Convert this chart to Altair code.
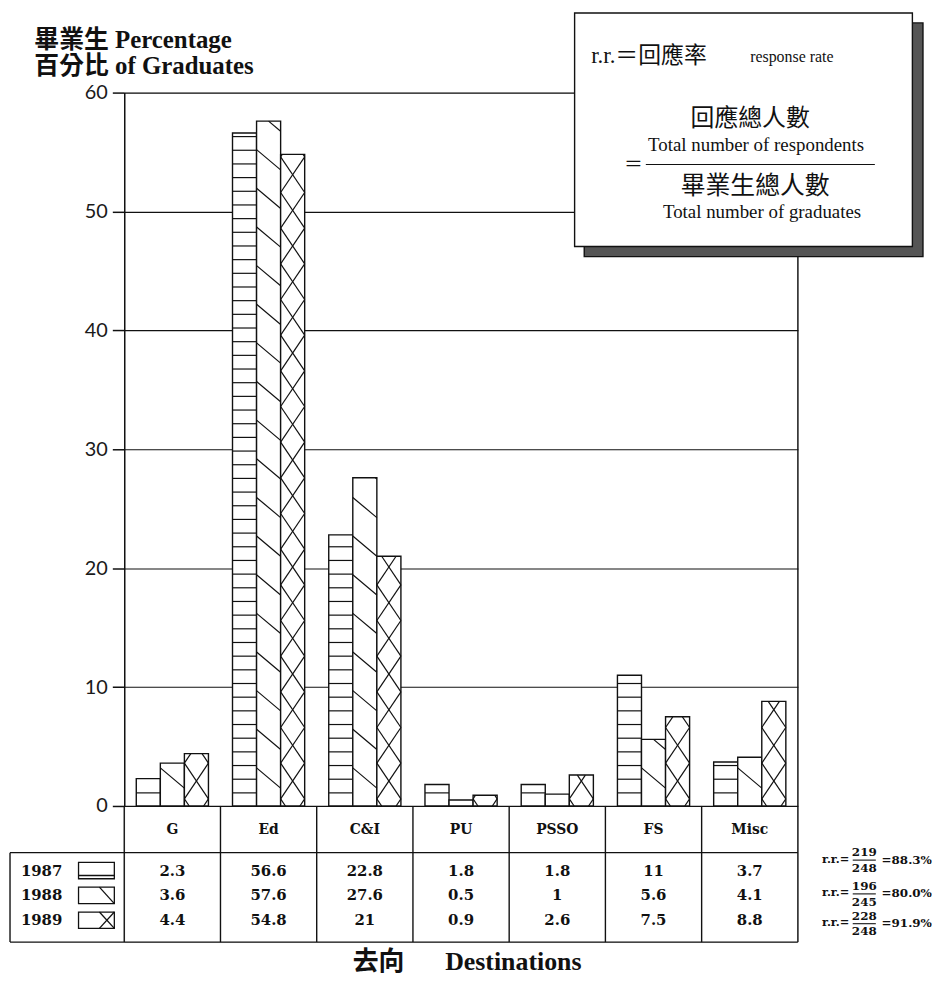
import altair as alt
import pandas as pd

# ---------------- data ----------------
categories = ["G", "Ed", "C&I", "PU", "PSSO", "FS", "Misc"]
years = ["1987", "1988", "1989"]
v1987 = [2.3, 56.6, 22.8, 1.8, 1.8, 11, 3.7]
v1988 = [3.6, 57.6, 27.6, 0.5, 1, 5.6, 4.1]
v1989 = [4.4, 54.8, 21, 0.9, 2.6, 7.5, 8.8]
respondents = [219, 196, 228]
graduates = [248, 245, 248]
rates = ["88.3%", "80.0%", "91.9%"]
y_ticks = [0, 10, 20, 30, 40, 50, 60]

series = [v1987, v1988, v1989]
n = len(categories)

SERIF = "Liberation Serif, Noto Sans CJK TC"
TABLE_FONT = "DejaVu Serif"
INK = "#111111"

# ---------------- scales ----------------
xs = alt.Scale(domain=[0, n], nice=False, zero=False)
ys = alt.Scale(domain=[0, 60], range=[718, 0], nice=False, zero=False)
ts = alt.Scale(domain=[-1.6, 3.88], range=[718, 855], nice=False, zero=False)

y_axis = alt.Axis(
    values=y_ticks, grid=True, gridColor=INK, gridWidth=1.2, gridOpacity=1,
    domainColor=INK, domainWidth=1.5, tickColor=INK, tickSize=12, tickWidth=1.5,
    labelFont="Lato", labelFontSize=20, labelColor="#1a1a1a", labelPadding=5,
    title=["畢業生 Percentage", "百分比 of Graduates"], titleAngle=0,
    titleAlign="left", titleBaseline="alphabetic", titleX=-91, titleY=-45,
    titleFont=SERIF, titleFontSize=25, titleFontWeight="bold",
    titleColor=INK, titleLineHeight=26)

X = lambda f="x": alt.X(f"{f}:Q", scale=xs, axis=None)
Y = lambda f="y": alt.Y(f"{f}:Q", scale=ys, axis=y_axis)
T = lambda f="y": alt.Y(f"{f}:Q", scale=ts, axis=None)

# ---------------- bars ----------------
bar_rows = []
for i, c in enumerate(categories):
    for k, yr in enumerate(years):
        x0 = i + 0.125 + 0.25 * k
        bar_rows.append({"cat": c, "year": yr, "x": x0, "x2": x0 + 0.25,
                         "y": series[k][i], "zero": 0})
bars_df = pd.DataFrame(bar_rows)


def clip_seg(xl, xr, y0, d, v):
    if d > 0:
        t_lo, t_hi = max(0.0, -y0 / d), min(1.0, (v - y0) / d)
    else:
        t_lo, t_hi = max(0.0, (v - y0) / d), min(1.0, -y0 / d)
    if t_hi - t_lo < 0.03:
        return None
    return {"x": xl + t_lo * (xr - xl), "y": y0 + d * t_lo,
            "x2": xl + t_hi * (xr - xl), "y2": y0 + d * t_hi}


hatch = []
for r in bar_rows:
    xl, xr, v = r["x"], r["x2"], r["y"]
    if r["year"] == "1987":
        yy = 1.1
        while yy < v - 0.15:
            hatch.append({"x": xl, "x2": xr, "y": yy, "y2": yy})
            yy += 1.15
    elif r["year"] == "1988":
        for k in range(-2, 22):
            s = clip_seg(xl, xr, 3.2 + k * 3.25, -1.7, v)
            if s:
                hatch.append(s)
    else:
        h = 1.5
        for k in range(-2, 24):
            yc = 2.1 + k * 3.0
            for s in (clip_seg(xl, xr, yc + h, -2 * h, v), clip_seg(xl, xr, yc - h, 2 * h, v)):
                if s:
                    hatch.append(s)
hatch_df = pd.DataFrame(hatch)

bars = alt.Chart(bars_df).mark_rect(fill="white", stroke=INK, strokeWidth=1.4).encode(
    x=X("x"), x2="x2", y=Y("y"), y2="zero")

hatch_layer = alt.Chart(hatch_df).mark_rule(stroke=INK, strokeWidth=1.2).encode(
    x=X("x"), x2="x2", y=Y("y"), y2="y2")

right_border = alt.Chart(pd.DataFrame({"x": [n], "y": [0], "y2": [60]})).mark_rule(
    stroke=INK, strokeWidth=1.4).encode(x=X("x"), y=Y("y"), y2="y2")

# ---------------- response-rate definition box ----------------
box_df = pd.DataFrame({"x": [4.78, 4.68], "x2": [8.30, 8.19], "y": [65.86, 66.7],
                       "y2": [46.2, 47.05], "fill": ["#555555", "white"]})
box = alt.Chart(box_df).mark_rect(stroke=INK, strokeWidth=1.4).encode(
    x=X("x"), x2="x2", y=Y("y"), y2="y2", fill=alt.Fill("fill:N", scale=None))

box_texts = [
    ("r.r.＝回應率", 4.853, 63.05, 23, "left"),
    ("response rate", 6.504, 62.95, 16, "left"),
    ("回應總人數", 6.504, 57.74, 24, "center"),
    ("Total number of respondents", 6.566, 55.57, 19, "center"),
    ("＝", 5.29, 53.9, 19, "center"),
    ("畢業生總人數", 6.556, 52.15, 25, "center"),
    ("Total number of graduates", 6.628, 49.97, 19, "center"),
]
box_text_layers = []
for t, x, y, fs, al in box_texts:
    box_text_layers.append(
        alt.Chart(pd.DataFrame({"t": [t], "x": [x], "y": [y]})).mark_text(
            align=al, baseline="middle", font=SERIF, fontSize=fs,
            color=INK).encode(x=X("x"), y=Y("y"), text="t:N"))
frac_line = alt.Chart(pd.DataFrame({"x": [5.42], "x2": [7.80], "y": [53.95]})).mark_rule(
    stroke=INK, strokeWidth=1.2).encode(x=X("x"), x2="x2", y=Y("y"))

bar_group = alt.layer(bars, hatch_layer, right_border, box, frac_line, *box_text_layers)

# ---------------- data table ----------------
LEG_L = -1.187
rows_y = [1, 2, 3]
lines = [
    {"x": LEG_L, "x2": n, "y": 0.28, "y2": 0.28},
    {"x": LEG_L, "x2": n, "y": 3.88, "y2": 3.88},
    {"x": LEG_L, "x2": LEG_L, "y": 0.28, "y2": 3.88},
]
for i in range(n + 1):
    lines.append({"x": i, "x2": i, "y": -1.6, "y2": 3.88})
lines_df = pd.DataFrame(lines)
table_lines = alt.Chart(lines_df).mark_rule(stroke=INK, strokeWidth=1.4).encode(
    x=X("x"), x2="x2", y=T("y"), y2="y2")

head_df = pd.DataFrame({"t": categories, "x": [i + 0.5 for i in range(n)], "y": -0.64})
heads = alt.Chart(head_df).mark_text(font=TABLE_FONT, fontSize=14, fontWeight="bold",
                                     color=INK, baseline="middle").encode(
    x=X("x"), y=T("y"), text="t:N")

val_rows = []
for k, yr in enumerate(years):
    for i in range(n):
        val_rows.append({"t": str(series[k][i]), "x": i + 0.5, "y": rows_y[k]})
vals = alt.Chart(pd.DataFrame(val_rows)).mark_text(
    font=TABLE_FONT, fontSize=15, fontWeight="bold", color=INK, baseline="middle").encode(
    x=X("x"), y=T("y"), text="t:N")

year_df = pd.DataFrame({"t": years, "x": -1.074, "y": rows_y})
year_text = alt.Chart(year_df).mark_text(
    font=TABLE_FONT, fontSize=15, fontWeight="bold", color=INK, align="left",
    baseline="middle").encode(x=X("x"), y=T("y"), text="t:N")

sw_df = pd.DataFrame({"x": -0.475, "x2": -0.103, "y": [r - 0.33 for r in rows_y],
                      "y2": [r + 0.33 for r in rows_y]})
swatches = alt.Chart(sw_df).mark_rect(fill="white", stroke=INK, strokeWidth=1.3).encode(
    x=X("x"), x2="x2", y=T("y"), y2="y2")
sw_lines_df = pd.DataFrame([
    {"x": -0.475, "x2": -0.103, "y": rows_y[0] + 0.2, "y2": rows_y[0] + 0.2},
    {"x": -0.258, "x2": -0.103, "y": rows_y[1] - 0.33, "y2": rows_y[1] + 0.33},
    {"x": -0.258, "x2": -0.103, "y": rows_y[2] - 0.33, "y2": rows_y[2] + 0.33},
    {"x": -0.258, "x2": -0.103, "y": rows_y[2] + 0.33, "y2": rows_y[2] - 0.33},
])
sw_lines = alt.Chart(sw_lines_df).mark_rule(stroke=INK, strokeWidth=1.3).encode(
    x=X("x"), x2="x2", y=T("y"), y2="y2")

# response rates
rr_y = [0.56, 1.92, 3.12]
rr_lbl = alt.Chart(pd.DataFrame({"t": ["r.r.="] * 3, "x": 7.535, "y": rr_y})).mark_text(
    font=TABLE_FONT, fontSize=11.5, fontWeight="bold", color=INK, align="right",
    baseline="middle").encode(x=X("x"), y=T("y"), text="t:N")
rr_num = alt.Chart(pd.DataFrame({"t": [str(v) for v in respondents], "x": 7.69,
                                 "y": [c - 0.3 for c in rr_y]})).mark_text(
    font=TABLE_FONT, fontSize=12, fontWeight="bold", color=INK, baseline="middle").encode(
    x=X("x"), y=T("y"), text="t:N")
rr_den = alt.Chart(pd.DataFrame({"t": [str(v) for v in graduates], "x": 7.69,
                                 "y": [c + 0.33 for c in rr_y]})).mark_text(
    font=TABLE_FONT, fontSize=12, fontWeight="bold", color=INK, baseline="middle").encode(
    x=X("x"), y=T("y"), text="t:N")
rr_bar = alt.Chart(pd.DataFrame({"x": 7.57, "x2": 7.81, "y": [c + 0.02 for c in rr_y]})).mark_rule(
    stroke=INK, strokeWidth=1.1).encode(x=X("x"), x2="x2", y=T("y"))
rr_pct = alt.Chart(pd.DataFrame({"t": ["=" + r for r in rates], "x": 7.87, "y": rr_y})).mark_text(
    font=TABLE_FONT, fontSize=12, fontWeight="bold", color=INK, align="left",
    baseline="middle").encode(x=X("x"), y=T("y"), text="t:N")

xlabel = alt.Chart(pd.DataFrame({"t": ["去向", "Destinations"], "x": [2.375, 3.335],
                                 "y": [5.0, 5.0]})).mark_text(
    font=SERIF, fontSize=26, fontWeight="bold", color=INK, align="left",
    baseline="alphabetic").encode(x=X("x"), y=T("y"), text="t:N")

table_group = alt.layer(table_lines, heads, vals, year_text, swatches, sw_lines,
                        rr_lbl, rr_num, rr_den, rr_bar, rr_pct, xlabel)

chart = alt.layer(bar_group, table_group).resolve_scale(y="independent").properties(
    width=678, height=855,
    autosize=alt.AutoSizeParams(type="none"),
    padding={"left": 117, "top": 82, "right": 135, "bottom": 32},
).configure_view(strokeWidth=0, stroke="transparent").configure(background="white")

chart.save("out.html", embed_options={"renderer": "svg", "actions": False})
